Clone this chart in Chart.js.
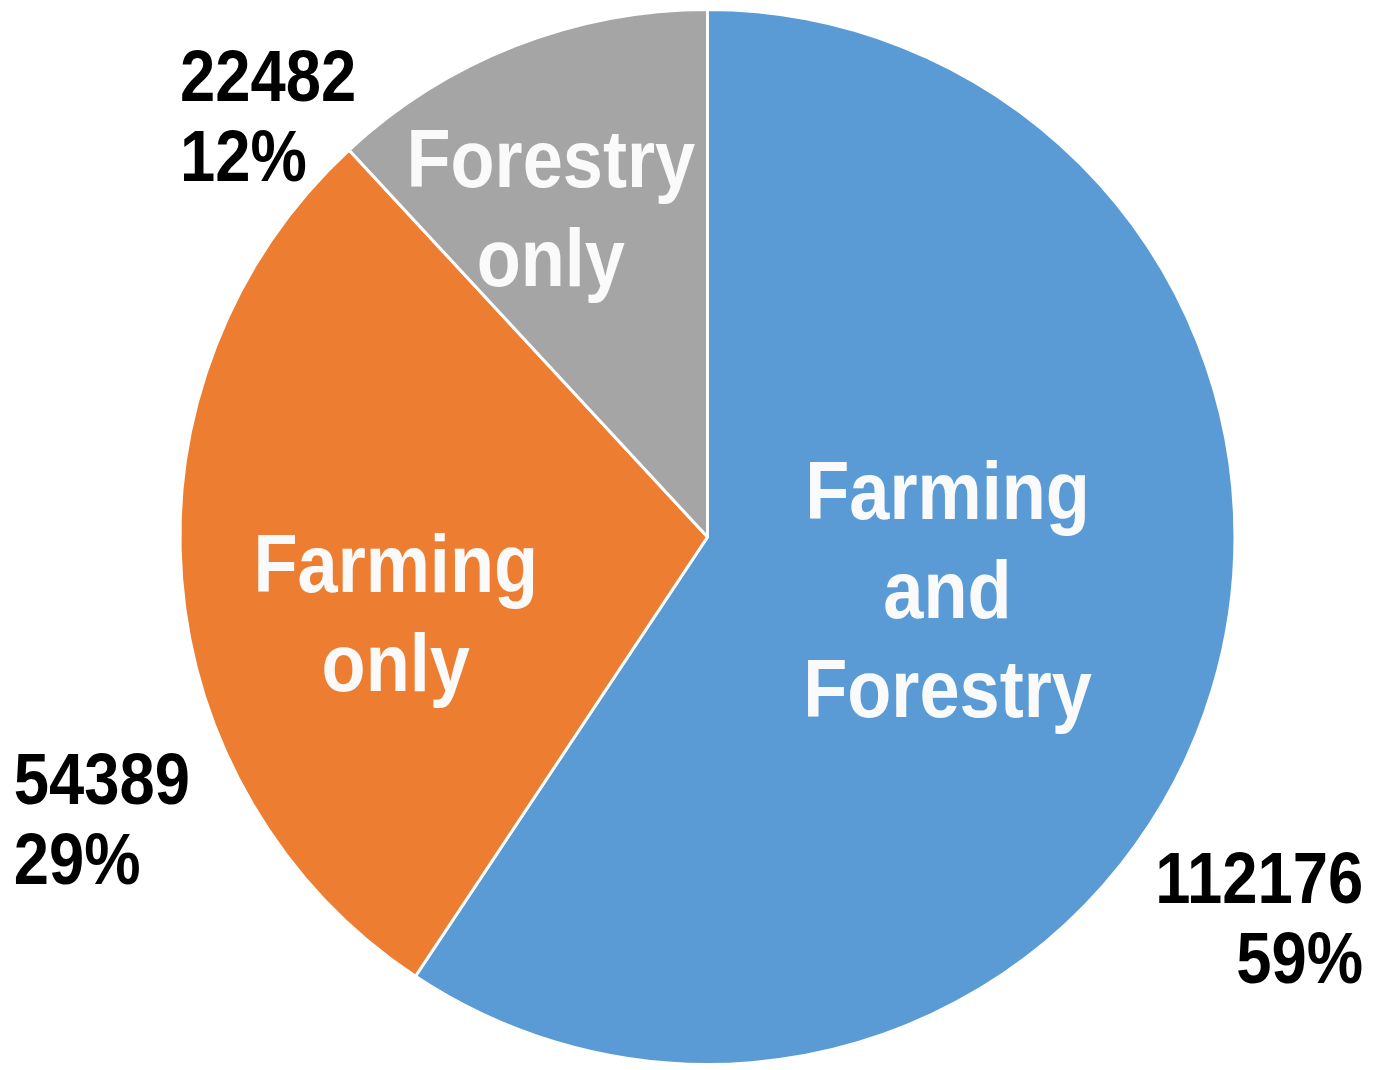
<!DOCTYPE html>
<html>
<head>
<meta charset="utf-8">
<title>Holdings by activity</title>
<script src="https://cdn.jsdelivr.net/npm/chart.js"></script>
<style>
    body { margin: 0; background: #fff; }
    #pie { display: block; }
</style>
</head>
<body>
<canvas id="pie" width="1379" height="1070"></canvas>
<script>
// data, clockwise from 12 o'clock
const categories = ['Farming and Forestry', 'Farming only', 'Forestry only'];
const insideText = [['Farming', 'and', 'Forestry'], ['Farming', 'only'], ['Forestry', 'only']];
const holdings = [112176, 54389, 22482];
const shares = ['59%', '29%', '12%'];
const colors = ['#5B9BD5', '#ED7D31', '#A5A5A5'];

const FONT = '"Liberation Sans", Arial, sans-serif';
const SQUEEZE = 0.88; // the original text is a narrow face

function drawText(ctx, txt, x, y, size, align) {
    ctx.save();
    ctx.font = `bold ${size}px ${FONT}`;
    ctx.textBaseline = 'alphabetic';
    ctx.textAlign = align;
    ctx.translate(x, y);
    ctx.scale(SQUEEZE, 1);
    ctx.fillText(txt, 0, 0);
    ctx.restore();
}

// where each slice's labels sit, in units of the pie radius
const inside = [
    { dx: 0.455, dy: 0.098 },
    { dx: -0.591, dy: 0.144 },
    { dx: -0.297, dy: -0.625 }
];
const outside = [
    { x: 1.243, y: 0.693, align: 'right' },
    { x: -1.315, y: 0.506, align: 'left' },
    { x: -1.0, y: -0.826, align: 'left' }
];

const sliceLabels = {
    id: 'sliceLabels',
    afterDatasetsDraw(chart) {
        const ctx = chart.ctx;
        const arcs = chart.getDatasetMeta(0).data;
        arcs.forEach((arc, i) => {
            const { x, y, outerRadius: r } = arc.getProps(['x', 'y', 'outerRadius'], true);

            // white name inside the slice
            const lines = insideText[i];
            const cx = x + inside[i].dx * r;
            const cy = y + inside[i].dy * r;
            const lh = 99, cap = 58;
            ctx.fillStyle = '#FAFAFA';
            lines.forEach((t, k) => {
                drawText(ctx, t, cx, cy + (k - (lines.length - 1) / 2) * lh + cap / 2, 82, 'center');
            });

            // count and share outside
            const ox = x + outside[i].x * r;
            const oy = y + outside[i].y * r;
            ctx.fillStyle = '#000';
            drawText(ctx, String(holdings[i]), ox, oy, 72, outside[i].align);
            drawText(ctx, shares[i], ox, oy + 80, 72, outside[i].align);
        });
    }
};

new Chart(document.getElementById('pie'), {
    type: 'pie',
    data: {
        labels: categories,
        datasets: [{
            data: holdings,
            backgroundColor: colors,
            borderColor: '#fff',
            borderWidth: 3
        }]
    },
    options: {
        responsive: false,
        animation: false,
        layout: { padding: { top: 8, bottom: 4, left: 36, right: 0 } },
        plugins: {
            legend: { display: false },
            tooltip: { enabled: false }
        }
    },
    plugins: [sliceLabels]
});
</script>
</body>
</html>
